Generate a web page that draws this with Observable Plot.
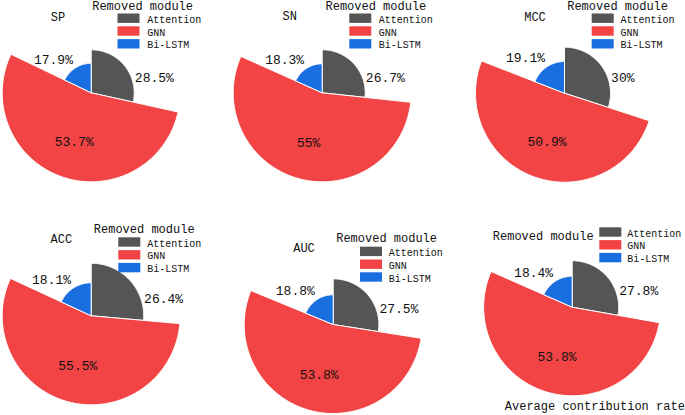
<!DOCTYPE html>
<html>
<head>
<meta charset="utf-8">
<script src="https://cdn.jsdelivr.net/npm/d3@7"></script>
<script src="https://cdn.jsdelivr.net/npm/@observablehq/plot@0.6"></script>
<style>
  html, body { margin: 0; padding: 0; background: #fff; }
  #chart { width: 685px; height: 415px; }
</style>
</head>
<body>
<div id="chart"></div>
<script>
// ---- data ----
const panels = ["SP", "SN", "MCC", "ACC", "AUC", "Average contribution rate"];
const modules = ["Attention", "GNN", "Bi-LSTM"];
const attention = [28.5, 26.7, 30, 26.4, 27.5, 27.8];
const gnn = [53.7, 55, 50.9, 55.5, 53.8, 53.8];
const bilstm = [17.9, 18.3, 19.1, 18.1, 18.8, 18.4];
// relative slice radius (GNN slice = 1)
const attentionRadius = [0.483, 0.483, 0.517, 0.59, 0.513, 0.522];
const gnnRadius = [1, 1, 1, 1, 1, 0.995];
const bilstmRadius = [0.331, 0.326, 0.356, 0.371, 0.334, 0.348];
const legendTitle = "Removed module";

// ---- layout (pixels) ----
const colors = ["#555555", "#f24444", "#1a6fe0"];
const FONT = "'Liberation Mono', 'DejaVu Sans Mono', monospace";
const layout = [
  {cx: 90.7,  cy: 92.3,  title: [57.5, 20],    lt: [91.7, 9.5],   rect: [117.5, 13.5], lab: 146.7},
  {cx: 321.7, cy: 92.3,  title: [289.3, 19.5], lt: [325, 9.5],    rect: [349.3, 13.5], lab: 378.3},
  {cx: 564,   cy: 92.7,  title: [534.5, 20],   lt: [566.7, 9.5],  rect: [591.7, 13.5], lab: 620},
  {cx: 90.7,  cy: 315.3, title: [60.8, 242.7], lt: [93.3, 232.3], rect: [118.3, 237.3], lab: 146.7},
  {cx: 332.7, cy: 324,   title: [303.5, 251.7],lt: [335.7, 241.7],rect: [360, 246.7], lab: 388.3},
  {cx: 571.7, cy: 306.7, title: [504.3, 409.3],lt: [492.3, 239.3],rect: [599.3, 227.3], lab: 626.7, bottomTitle: true}
];
const R = 89;
const rScale = d3.scaleLinear().domain([0, 1]).range([0, R]);
const rw = 22, rh = 9.4, step = 12.8;

// ---- build slice polygons from values ----
const rad = d => d * Math.PI / 180;
const slices = [];
const labels = [];
panels.forEach((p, i) => {
  const L = layout[i];
  const vals = [attention[i], gnn[i], bilstm[i]];
  const rads = [attentionRadius[i], gnnRadius[i], bilstmRadius[i]];
  const total = d3.sum(vals);
  let a0 = 0;
  vals.forEach((v, j) => {
    const a1 = a0 + v / total * 360;
    const r = rScale(rads[j]);
    const key = p + "|" + modules[j];
    slices.push({key, module: modules[j], x: L.cx, y: L.cy});
    const n = Math.max(2, Math.ceil(a1 - a0));
    for (let k = 0; k <= n; k++) {
      const a = rad(a0 + (a1 - a0) * k / n);
      slices.push({key, module: modules[j], x: L.cx + r * Math.sin(a), y: L.cy - r * Math.cos(a)});
    }
    slices.push({key, module: modules[j], x: L.cx, y: L.cy});
    // label placement
    const text = v + "%";
    if (j === 0) {
      const a = rad(76), rr = r + 2;
      labels.push({text, x: L.cx + rr * Math.sin(a), y: L.cy - rr * Math.cos(a), kind: "start"});
    } else if (j === 1) {
      const a = rad((a0 + a1) / 2), rr = R * 0.585;
      labels.push({text, x: L.cx + rr * Math.sin(a), y: L.cy - rr * Math.cos(a), kind: "middle"});
    } else {
      const a = rad(328), rr = r + 5;
      labels.push({text, x: L.cx + rr * Math.sin(a), y: L.cy - rr * Math.cos(a), kind: "end"});
    }
    a0 = a1;
  });
});

// legends & titles
const legendRects = [];
const legendTexts = [];
const legendTitles = [];
const titles = [];
panels.forEach((p, i) => {
  const L = layout[i];
  modules.forEach((m, j) => {
    legendRects.push({module: m, x1: L.rect[0], x2: L.rect[0] + rw, y1: L.rect[1] + j * step, y2: L.rect[1] + j * step + rh});
    legendTexts.push({text: m, x: L.lab, y: L.rect[1] + j * step + 8.8});
  });
  legendTitles.push({text: legendTitle, x: L.lt[0], y: L.lt[1]});
  titles.push({text: p, x: L.title[0], y: L.title[1], bottom: !!L.bottomTitle});
});

const txt = {fill: "#111", fontFamily: FONT};
const chart = Plot.plot({
  width: 685,
  height: 415,
  margin: 0,
  style: {background: "#fff", fontFamily: FONT},
  x: {domain: [0, 685], range: [0, 685], axis: null},
  y: {domain: [0, 415], range: [0, 415], axis: null},
  color: {domain: modules, range: colors},
  marks: [
    Plot.line(slices, {x: "x", y: "y", z: "key", fill: "module", stroke: "white", strokeWidth: 1, strokeLinejoin: "round", curve: "linear"}),
    Plot.text(labels.filter(d => d.kind === "start"), {x: "x", y: "y", text: "text", textAnchor: "start", lineAnchor: "bottom", fontSize: 13, ...txt}),
    Plot.text(labels.filter(d => d.kind === "end"), {x: "x", y: "y", text: "text", textAnchor: "end", lineAnchor: "bottom", fontSize: 13, ...txt}),
    Plot.text(labels.filter(d => d.kind === "middle"), {x: "x", y: "y", text: "text", textAnchor: "middle", lineAnchor: "middle", fontSize: 13, ...txt}),
    Plot.rect(legendRects, {x1: "x1", x2: "x2", y1: "y1", y2: "y2", fill: "module"}),
    Plot.text(legendTexts, {x: "x", y: "y", text: "text", textAnchor: "start", lineAnchor: "bottom", fontSize: 10, ...txt}),
    Plot.text(legendTitles, {x: "x", y: "y", text: "text", textAnchor: "start", lineAnchor: "bottom", fontSize: 12, ...txt}),
    Plot.text(titles.filter(d => !d.bottom), {x: "x", y: "y", text: "text", textAnchor: "middle", lineAnchor: "bottom", fontSize: 12, ...txt}),
    Plot.text(titles.filter(d => d.bottom), {x: "x", y: "y", text: "text", textAnchor: "start", lineAnchor: "bottom", fontSize: 12, ...txt})
  ]
});
document.getElementById("chart").appendChild(chart);
</script>
</body>
</html>
